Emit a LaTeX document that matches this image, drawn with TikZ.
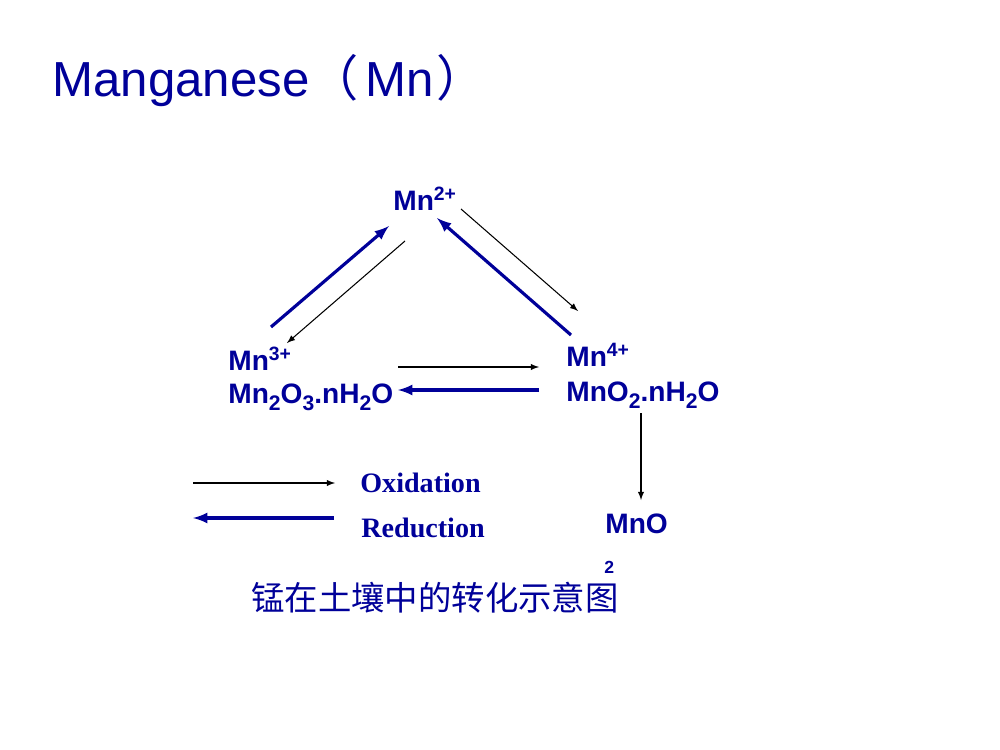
\documentclass[tikz,border=0pt]{standalone}
\usepackage{fontspec}
\setmainfont{Liberation Sans}
\newfontfamily\serifbold{Liberation Serif}
\newfontfamily\cjk{Noto Sans CJK SC}
\usetikzlibrary{positioning}
\usetikzlibrary{arrows}
\definecolor{mnblue}{RGB}{0,0,153}
\newcommand{\chg}[1]{\raisebox{0.33em}{\fontsize{11}{12}\selectfont #1}}
\newcommand{\sbs}[1]{\raisebox{-0.28em}{\fontsize{12}{12}\selectfont #1}}

\begin{document}
\begin{tikzpicture}[x=0.02cm, y=-0.02cm,
	species/.style={anchor=base west, inner sep=0pt, text=mnblue, font=\fontsize{16}{18}\selectfont\bfseries},
	legendtext/.style={anchor=base west, inner sep=0pt, text=mnblue, font=\fontsize{16}{18}\selectfont\serifbold\bfseries},
	oxi/.style={black, line width=0.6pt, -latex},
	red/.style={mnblue, line width=1.8pt, -latex}]
	\useasboundingbox (0,0) rectangle (1000,750);

	% title
	\node[anchor=base west, inner sep=0pt, text=mnblue, font=\fontsize{28}{32}\selectfont] (title) at (52,96) {Manganese{\cjk （}\hspace{4pt}Mn\hspace{1.5pt}{\cjk ）}};

	% the species
	\node[species] (mntwo) at (393,210) {Mn\chg{2+}};
	\node[species] (mnthree) at (228,370) {Mn\chg{3+}};
	\node[species] (mntwoothree) at (228,403) {Mn\sbs{2}O\sbs{3}.nH\sbs{2}O};
	\node[species] (mnfour) at (566,366) {Mn\chg{4+}};
	\node[species] (mnotwo) at (566,401) {MnO\sbs{2}.nH\sbs{2}O};
	\node[species] (mno) at (605,533) {MnO};
	\node[anchor=base west, inner sep=0pt, text=mnblue, font=\fontsize{10}{12}\selectfont\bfseries] (mnosub) at (604,573) {2};

	% legend
	\node[legendtext] (oxtext) at (360,492) {Oxidation};
	\node[legendtext] (redtext) at (361,537) {Reduction};

	% caption
	\node[anchor=base west, inner sep=0pt, text=mnblue, font=\fontsize{19}{22}\selectfont\cjk] (caption) at (251,610) {锰在土壤中的转化示意图};

	% arrow ends
	\coordinate (a1) at (271,327); \coordinate (a2) at (389,226);
	\coordinate (b1) at (405,241); \coordinate (b2) at (287,343);
	\coordinate (c1) at (461,209); \coordinate (c2) at (578,311);
	\coordinate (d1) at (571,335); \coordinate (d2) at (437,218);
	\coordinate (e1) at (398,367); \coordinate (e2) at (539,367);
	\coordinate (f1) at (539,390); \coordinate (f2) at (398,390);
	\coordinate (g1) at (641,413); \coordinate (g2) at (641,500);
	\coordinate (h1) at (193,483); \coordinate (h2) at (335,483);
	\coordinate (i1) at (334,518); \coordinate (i2) at (193,518);

	% cycle
	\draw[red] (a1) -- (a2);
	\draw[oxi] (b1) -- (b2);
	\draw[oxi] (c1) -- (c2);
	\draw[red] (d1) -- (d2);
	\draw[oxi] (e1) -- (e2);
	\draw[red] (f1) -- (f2);
	\draw[oxi] (g1) -- (g2);

	% legend arrows
	\draw[oxi] (h1) -- (h2);
	\draw[red] (i1) -- (i2);
\end{tikzpicture}
\end{document}
